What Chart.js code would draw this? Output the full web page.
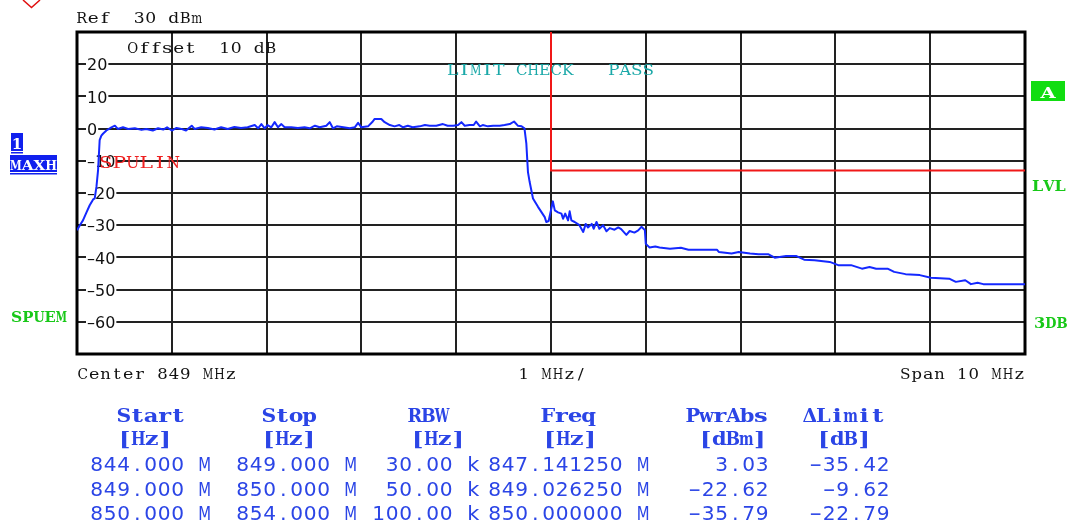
<!DOCTYPE html>
<html>
<head>
<meta charset="utf-8">
<script src="https://cdn.jsdelivr.net/npm/chart.js@4.4.0/dist/chart.umd.min.js"></script>
<style>
html, body { margin: 0; padding: 0; background: #fff; }
canvas { display: block; }
</style>
</head>
<body>
<canvas id="spec" width="1067" height="526"></canvas>
<script>
// Trace 1 (MAXH), frequency in MHz / level in dBm
const traceFreq = [
    844.00, 844.03, 844.063, 844.10, 844.134, 844.17, 844.187, 844.205, 844.222, 844.239,
    844.257, 844.274, 844.31, 844.363, 844.40, 844.43, 844.485, 844.54, 844.61, 844.68,
    844.73, 844.80, 844.855, 844.91, 844.95, 845.00, 845.05, 845.10, 845.15, 845.21,
    845.24, 845.31, 845.38, 845.45, 845.52, 845.59, 845.66, 845.73, 845.80, 845.875,
    845.91, 845.945, 845.98, 846.01, 846.05, 846.085, 846.12, 846.156, 846.19, 846.26,
    846.33, 846.40, 846.455, 846.51, 846.56, 846.63, 846.666, 846.70, 846.74, 846.81,
    846.877, 846.93, 846.965, 847.00, 847.07, 847.12, 847.14, 847.21, 847.245, 847.30,
    847.35, 847.40, 847.44, 847.49, 847.54, 847.615, 847.67, 847.72, 847.79, 847.86,
    847.91, 847.97, 848.02, 848.055, 848.09, 848.14, 848.185, 848.21, 848.25, 848.28,
    848.335, 848.39, 848.46, 848.51, 848.565, 848.61, 848.65, 848.69, 848.72, 848.74,
    848.757, 848.775, 848.81, 848.863, 848.934, 848.95, 848.975, 849.02, 849.04, 849.074,
    849.11, 849.127, 849.15, 849.18, 849.197, 849.215, 849.25, 849.30, 849.34, 849.366,
    849.39, 849.43, 849.45, 849.48, 849.51, 849.55, 849.585, 849.62, 849.67, 849.71,
    849.74, 849.795, 849.83, 849.88, 849.92, 849.954, 849.99, 850.00, 850.04, 850.10,
    850.145, 850.255, 850.37, 850.45, 850.75, 850.77, 850.905, 850.98, 851.10, 851.19,
    851.29, 851.36, 851.48, 851.59, 851.67, 851.78, 851.94, 852.03, 852.165, 852.28,
    852.36, 852.43, 852.55, 852.62, 852.74, 852.89, 853.007, 853.20, 853.27, 853.37,
    853.43, 853.50, 853.56, 854.00
];
const traceLevel = [
    -31.6, -30.0, -28.5, -26.0, -23.8, -22.0, -21.7, -18.1, -13.0, -3.6,
    -2.2, -1.6, -0.6, 0.4, 0.9, -0.1, 0.4, -0.1, 0.1, -0.4,
    -0.1, -0.6, 0.1, -0.3, 0.4, -0.6, 0.2, -0.1, -0.6, 0.9,
    -0.1, 0.4, 0.2, -0.3, 0.4, -0.1, 0.5, 0.2, 0.4, 1.1,
    0.1, 1.4, 0.1, 1.1, 0.4, 2.0, 0.4, 1.4, 0.4, 0.4,
    0.2, 0.4, 0.1, 0.9, 0.4, 0.9, 2.0, 0.1, 0.7, 0.4,
    0.1, 0.4, 1.8, 0.4, 0.7, 2.2, 3.0, 3.0, 2.0, 1.1,
    0.7, 1.1, 0.4, 0.9, 0.4, 0.7, 1.1, 0.9, 0.9, 1.4,
    0.9, 0.9, 1.1, 2.0, 0.9, 1.1, 1.1, 2.2, 0.7, 1.1,
    0.7, 0.9, 0.9, 1.1, 1.4, 2.2, 0.9, 0.7, 0.1, -4.7,
    -13.5, -16.6, -21.7, -24.3, -27.5, -29.0, -28.7, -22.6, -25.4, -26.0,
    -26.4, -28.0, -26.4, -28.5, -25.7, -28.5, -29.0, -30.0, -32.1, -29.6,
    -30.7, -29.6, -31.1, -29.0, -31.1, -30.0, -31.9, -30.9, -31.4, -30.7,
    -31.2, -33.0, -31.8, -32.3, -31.6, -30.5, -31.5, -35.8, -36.9, -36.6,
    -36.9, -37.3, -37.0, -37.6, -37.6, -38.3, -38.8, -38.3, -38.8, -39.0,
    -39.0, -40.1, -39.6, -39.6, -40.7, -40.9, -41.4, -42.4, -42.4, -43.5,
    -43.0, -43.5, -43.5, -44.5, -45.2, -45.5, -46.3, -46.6, -47.6, -47.1,
    -48.3, -47.9, -48.3, -48.3
];

// Limit line SPULIN
const limitFreq = [849, 849, 854];
const limitLevel = [30, -13, -13];

// Axis
const yTickLabels = [20, 10, 0, -10, -20, -30, -40, -50, -60];

// Result table
const rangeStart = ['844.000 M', '849.000 M', '850.000 M'];
const rangeStop = ['849.000 M', '850.000 M', '854.000 M'];
const rbw = ['30.00 k', '50.00 k', '100.00 k'];
const peakFreq = ['847.141250 M', '849.026250 M', '850.000000 M'];
const pwrAbs = [3.03, -22.62, -35.79];
const deltaLimit = [-35.42, -9.62, -22.79];

const fmt = v => (v < 0 ? '\u2212' : '') + Math.abs(v).toFixed(2);

// chaque caractère centré dans une cellule de largeur fixe (police d'appareil),
// élargi de `stretch` sans dépasser `fill` × pas
function drawMono(ctx, text, x0, y, pitch, font, color, fill = 0.95, stretch = 1) {
    ctx.save();
    ctx.font = font;
    ctx.fillStyle = color;
    ctx.textAlign = 'center';
    ctx.textBaseline = 'alphabetic';
    [...text].forEach((ch, i) => {
        if (ch === ' ') return;
        const cx = x0 + (i + 0.5) * pitch;
        const w = ctx.measureText(ch).width || 1;
        const sx = Math.min(stretch, (pitch * fill) / w);
        ctx.save();
        ctx.translate(cx, y);
        ctx.scale(sx, 1);
        ctx.fillText(ch, 0, 0);
        ctx.restore();
    });
    ctx.restore();
}
function drawMonoRight(ctx, text, xr, y, pitch, font, color, fill, stretch) {
    drawMono(ctx, text, xr - [...text].length * pitch, y, pitch, font, color, fill, stretch);
}

const SMALL = '15px "DejaVu Serif"';
const BLUE = '#2b45e6';
const GREEN = '#18c818';

const framePlugin = {
    id: 'frame',
    beforeDraw(chart) {
        const ctx = chart.ctx;
        ctx.save();
        ctx.fillStyle = '#fff';
        ctx.fillRect(0, 0, chart.width, chart.height);
        ctx.restore();
    },
    beforeDatasetsDraw(chart) {
        const { ctx, chartArea: a } = chart;
        ctx.save();
        ctx.strokeStyle = '#000';
        ctx.lineWidth = 3;
        ctx.strokeRect(a.left, a.top, a.right - a.left, a.bottom - a.top);
        ctx.restore();
    },
    afterDraw(chart) {
        const ctx = chart.ctx;

        // marqueur rouge en haut à gauche
        ctx.save();
        ctx.strokeStyle = '#e01010';
        ctx.lineWidth = 1.5;
        ctx.beginPath();
        ctx.moveTo(23, 0); ctx.lineTo(31.5, 7.5); ctx.lineTo(40, 0);
        ctx.stroke();
        ctx.restore();

        drawMono(ctx, 'Ref  30 dBm', 76, 23, 11.5, SMALL, '#111', 0.95, 1.35);
        drawMono(ctx, 'Offset  10 dB', 127, 53, 11.5, SMALL, '#111', 0.95, 1.35);
        drawMono(ctx, 'LIMIT CHECK   PASS', 447, 75, 11.5, '15px "DejaVu Serif"', '#1aa8a8', 1.0, 1.35);
        drawMono(ctx, 'SPULIN', 99, 168, 13.5, '16px "DejaVu Serif"', '#ee2020', 1.0, 1.3);

        // indicateurs à gauche
        ctx.save();
        ctx.fillStyle = '#1020ee';
        ctx.fillRect(11, 133, 12, 18);
        ctx.fillRect(11, 152, 12, 1.5);
        ctx.fillRect(10, 155, 47, 17);
        ctx.fillRect(10, 173, 47, 1.5);
        ctx.restore();
        drawMono(ctx, '1', 11, 149, 12, 'bold 15px "DejaVu Serif"', '#fff');
        drawMono(ctx, 'MAXH', 10, 170, 11.75, 'bold 13px "DejaVu Serif"', '#fff', 1.0, 1.3);
        drawMono(ctx, 'SPUEM', 11, 322, 11.2, 'bold 14px "DejaVu Serif"', GREEN, 1.0, 1.3);

        // indicateurs à droite
        ctx.save();
        ctx.fillStyle = '#11dd11';
        ctx.fillRect(1031, 81, 34, 20);
        ctx.restore();
        drawMono(ctx, 'A', 1036, 98, 24, 'bold 15px "DejaVu Serif"', '#fff', 0.95, 1.3);
        drawMono(ctx, 'LVL', 1032, 191, 11.2, 'bold 14px "DejaVu Serif"', GREEN, 1.0, 1.3);
        drawMono(ctx, '3DB', 1034, 328, 11.2, 'bold 14px "DejaVu Serif"', GREEN, 1.0, 1.3);

        // ligne sous le graphique
        const BOT = '14px "DejaVu Serif"';
        drawMono(ctx, 'Center 849 MHz', 77, 379, 11.4, BOT, '#111', 0.92, 1.25);
        drawMono(ctx, '1 MHz/', 518, 379, 11.4, BOT, '#111', 0.92, 1.25);
        drawMonoRight(ctx, 'Span 10 MHz', 1025, 379, 11.4, BOT, '#111', 0.92, 1.25);

        // tableau des résultats
        const HEAD = 'bold 18px "DejaVu Serif"';
        const VAL = '19px "DejaVu Sans"';
        const headers = [['Start', 117], ['Stop', 262], ['RBW', 408], ['Freq', 541], ['PwrAbs', 686], ['\u0394Limit', 803]];
        const units = [['[Hz]', 118], ['[Hz]', 262], ['[Hz]', 411], ['[Hz]', 543], ['[dBm]', 699], ['[dB]', 817]];
        headers.forEach(([t, x]) => drawMono(ctx, t, x, 422, 13.6, HEAD, BLUE, 1.08, 1.35));
        units.forEach(([t, x]) => drawMono(ctx, t, x, 445, 13.5, HEAD, BLUE, 1.08, 1.35));
        const rowY = [471, 496, 520];
        rowY.forEach((y, i) => {
            drawMono(ctx, rangeStart[i], 90, y, 13.5, VAL, BLUE, 0.95, 1.1);
            drawMono(ctx, rangeStop[i], 236, y, 13.5, VAL, BLUE, 0.95, 1.1);
            drawMonoRight(ctx, rbw[i], 480, y, 13.5, VAL, BLUE, 0.95, 1.1);
            drawMono(ctx, peakFreq[i], 488, y, 13.5, VAL, BLUE, 0.95, 1.1);
            drawMonoRight(ctx, fmt(pwrAbs[i]), 769, y, 13.5, VAL, BLUE, 0.95, 1.1);
            drawMonoRight(ctx, fmt(deltaLimit[i]), 890, y, 13.5, VAL, BLUE, 0.95, 1.1);
        });
    }
};

const ctx = document.getElementById('spec').getContext('2d');
new Chart(ctx, {
    type: 'scatter',
    data: {
        datasets: [
            {
                label: 'Trace 1',
                data: traceFreq.map((f, i) => ({ x: f, y: traceLevel[i] })),
                showLine: true,
                borderColor: '#1428ff',
                borderWidth: 2,
                pointRadius: 0,
                tension: 0,
                borderJoinStyle: 'round',
                order: 1
            },
            {
                label: 'SPULIN',
                data: limitFreq.map((f, i) => ({ x: f, y: limitLevel[i] })),
                showLine: true,
                borderColor: '#f01818',
                borderWidth: 2,
                pointRadius: 0,
                tension: 0,
                order: 2
            }
        ]
    },
    options: {
        responsive: false,
        animation: false,
        devicePixelRatio: 1,
        layout: { padding: { left: 77, right: 42, top: 32, bottom: 172 } },
        plugins: { legend: { display: false }, tooltip: { enabled: false } },
        scales: {
            x: {
                type: 'linear',
                min: 844,
                max: 854,
                ticks: { display: false, stepSize: 1 },
                grid: { color: '#222', lineWidth: 2, drawTicks: false },
                border: { display: false },
                afterFit: s => { s.height = 0; }
            },
            y: {
                min: -70,
                max: 30,
                ticks: {
                    stepSize: 10,
                    mirror: true,
                    padding: 10,
                    labelOffset: 2,
                    color: '#111',
                    font: { family: 'DejaVu Sans', size: 16 },
                    showLabelBackdrop: true,
                    backdropColor: '#fff',
                    backdropPadding: { top: 0, bottom: 0, left: 1, right: 1 },
                    callback: v => yTickLabels.includes(v) ? (v < 0 ? '\u2013' + Math.abs(v) : String(v)) : ''
                },
                grid: { color: '#222', lineWidth: 2, drawTicks: false },
                border: { display: false },
                afterFit: s => { s.width = 0; }
            }
        }
    },
    plugins: [framePlugin]
});
</script>
</body>
</html>
